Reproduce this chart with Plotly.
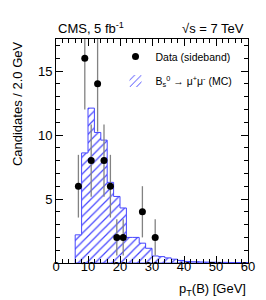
import numpy as np
import plotly.graph_objects as go

# Data (sideband) points
data_x = [7, 9, 11, 13, 15, 17, 19, 21, 27, 31]
data_y = [6, 16, 8, 14, 8, 6, 2, 2, 4, 2]
data_err = list(np.sqrt(data_y))

# MC histogram: 2 GeV bins from 6 to 60 GeV
mc_edges = list(range(6, 62, 2))
mc_vals = [2.2, 8.6, 12.1, 10.2, 9.6, 6.3, 5.2, 4.3, 2.0, 2.0,
           1.55, 1.15, 0.55, 0.5, 0.4, 0.3, 0.2, 0.12, 0.1, 0.08,
           0.07, 0.06, 0.05, 0.05, 0.04, 0.04, 0.03]

x_ticks = [0, 10, 20, 30, 40, 50, 60]
y_ticks = [5, 10, 15]

BLUE = "rgb(70,70,255)"
FONT = "Liberation Sans, Arial, sans-serif"

centers = [(a + b) / 2 for a, b in zip(mc_edges[:-1], mc_edges[1:])]

fig = go.Figure()
fig.add_trace(go.Bar(
    x=centers, y=mc_vals, width=2,
    marker=dict(color="white", line=dict(width=0),
                pattern=dict(shape="/", fgcolor=BLUE, bgcolor="white",
                             fgopacity=1, size=6, solidity=0.2)),
    name="B<sub>s</sub><sup>0</sup> → μ<sup>+</sup>μ<sup>-</sup> (MC)",
    legend="legend2", showlegend=True,
))
# step outline
sx = [mc_edges[0]] + mc_edges[:-1] + [mc_edges[-1], mc_edges[-1], mc_edges[0]]
sy = [0] + mc_vals + [mc_vals[-1], 0, 0]
fig.add_trace(go.Scatter(
    x=sx, y=sy, mode="lines", line=dict(color=BLUE, width=1, shape="hv"),
    showlegend=False, hoverinfo="skip",
))
fig.add_trace(go.Scatter(
    x=data_x, y=data_y, mode="markers",
    marker=dict(color="black", size=7),
    error_y=dict(type="data", array=data_err, arrayminus=data_err,
                 color="rgb(130,130,130)", thickness=1.3, width=0),
    name="Data (sideband)", legend="legend",
))

fig.update_layout(
    width=266, height=300,
    margin=dict(l=48, r=26, t=31, b=45),
    plot_bgcolor="white", paper_bgcolor="white",
    font=dict(family=FONT, size=13, color="black"),
    bargap=0,
    legend=dict(x=0.31, y=0.922, xanchor="left", yanchor="middle",
                bgcolor="rgba(0,0,0,0)", font=dict(size=10.5),
                itemwidth=30, tracegroupgap=0),
    legend2=dict(x=0.31, y=0.812, xanchor="left", yanchor="middle",
                 bgcolor="rgba(0,0,0,0)", font=dict(size=10.5),
                 itemwidth=30, tracegroupgap=0),
)
fig.update_xaxes(
    range=[0, 60], tickvals=x_ticks, ticks="inside", ticklen=7,
    tickcolor="black", showline=True, linecolor="black", linewidth=1,
    mirror="ticks", showgrid=False, zeroline=False,
    minor=dict(ticks="inside", ticklen=4, dtick=2, tickcolor="black", showgrid=False),
    tickfont=dict(size=13), ticklabelstandoff=-9,
)
fig.update_yaxes(
    range=[0, 17.5], tickvals=y_ticks, ticks="inside", ticklen=7,
    tickcolor="black", showline=True, linecolor="black", linewidth=1,
    mirror="ticks", showgrid=False, zeroline=False,
    minor=dict(ticks="inside", ticklen=4, dtick=1, tickcolor="black", showgrid=False),
    tickfont=dict(size=13),
)
fig.add_annotation(text="CMS, 5 fb<sup>-1</sup>", xref="paper", yref="paper",
                   x=0, y=1, xanchor="left", yanchor="bottom", showarrow=False,
                   font=dict(size=13), yshift=1)
fig.add_annotation(text="√s = 7 TeV", xref="paper", yref="paper",
                   x=1, y=1, xanchor="right", yanchor="bottom", showarrow=False,
                   font=dict(size=13), yshift=1, xshift=-2)
fig.add_annotation(text="Candidates / 2.0 GeV", xref="paper", yref="paper",
                   x=-0.2, y=1, xanchor="center", yanchor="top", showarrow=False,
                   textangle=-90, font=dict(size=13))
fig.add_annotation(text="p<sub>T</sub>(B) [GeV]", xref="paper", yref="paper",
                   x=1, y=-0.12, xanchor="right", yanchor="middle", showarrow=False,
                   font=dict(size=13))

fig.write_html("out.html")
